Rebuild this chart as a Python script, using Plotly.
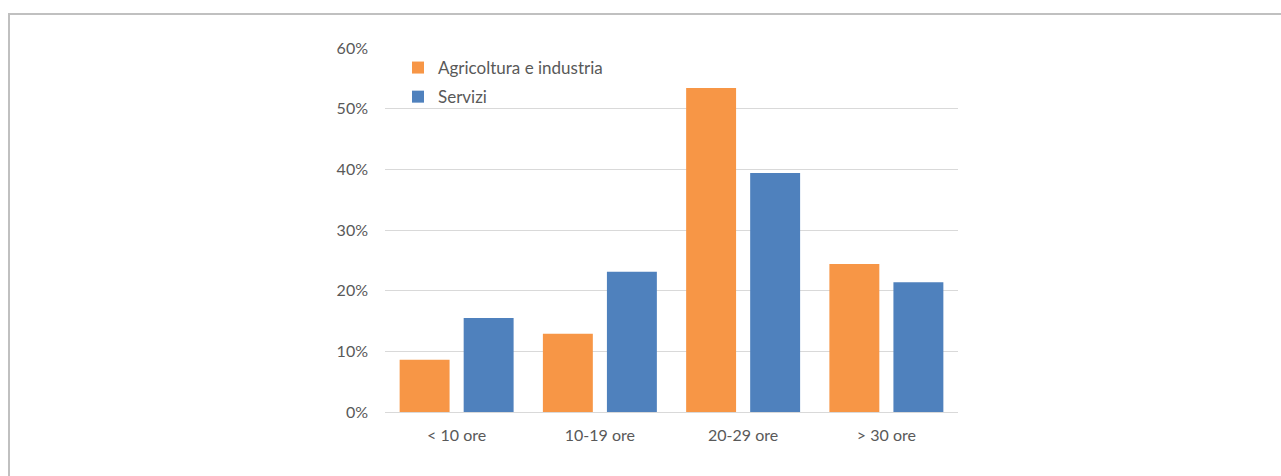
import plotly.graph_objects as go

categories = ["< 10 ore", "10-19 ore", "20-29 ore", "> 30 ore"]
agricoltura = [8.6, 12.9, 53.4, 24.4]
servizi = [15.5, 23.1, 39.4, 21.4]
series_names = ["Agricoltura e industria", "Servizi"]
tick_vals = [0, 10, 20, 30, 40, 50, 60]
tick_text = ["0%", "10%", "20%", "30%", "40%", "50%", "60%"]

W, H = 1281, 476
L, R, T, B = 385, 323, 48, 64
pw, ph = W - L - R, H - T - B
FONT = "Lato, Open Sans, sans-serif"

fig = go.Figure()
fig.add_trace(go.Bar(x=categories, y=agricoltura, name=series_names[0],
                     marker=dict(color="#F79646", line=dict(width=0)),
                     legendgroup="a"))
fig.add_trace(go.Bar(x=categories, y=servizi, name=series_names[1],
                     marker=dict(color="#4F81BD", line=dict(width=0)),
                     legendgroup="b"))

fig.update_layout(
    width=W, height=H,
    margin=dict(l=L, r=R, t=T, b=B, pad=0),
    paper_bgcolor="white", plot_bgcolor="white",
    barmode="group", bargap=0.106, bargroupgap=0.22,
    font=dict(family=FONT, size=16, color="#595959"),
    showlegend=True,
    legend=dict(x=(398 - L) / pw, y=(412 - 50) / ph, xanchor="left", yanchor="top",
                bgcolor="rgba(0,0,0,0)", font=dict(family=FONT, size=17, color="#595959"),
                tracegroupgap=4, itemwidth=30),
    xaxis=dict(showgrid=False, showline=True, linecolor="#d9d9d9", linewidth=1,
               ticks="", tickfont=dict(family=FONT, size=16, color="#595959"),
               ticklabelstandoff=9, fixedrange=True),
    yaxis=dict(range=[0, 60], tickvals=tick_vals, ticktext=tick_text,
               showgrid=True, gridcolor="#d9d9d9", gridwidth=1, zeroline=False,
               showline=False, ticks="", ticklabelstandoff=16,
               tickfont=dict(family=FONT, size=16, color="#595959"), fixedrange=True),
    shapes=[dict(type="rect", xref="paper", yref="paper",
                 x0=(9 - L) / pw, x1=(1300 - L) / pw,
                 y0=(412 - 500) / ph, y1=(412 - 14) / ph,
                 line=dict(color="#c0c0c0", width=2), fillcolor="rgba(0,0,0,0)",
                 layer="below")],
)

fig.write_html("out.html", config={"displayModeBar": False})
